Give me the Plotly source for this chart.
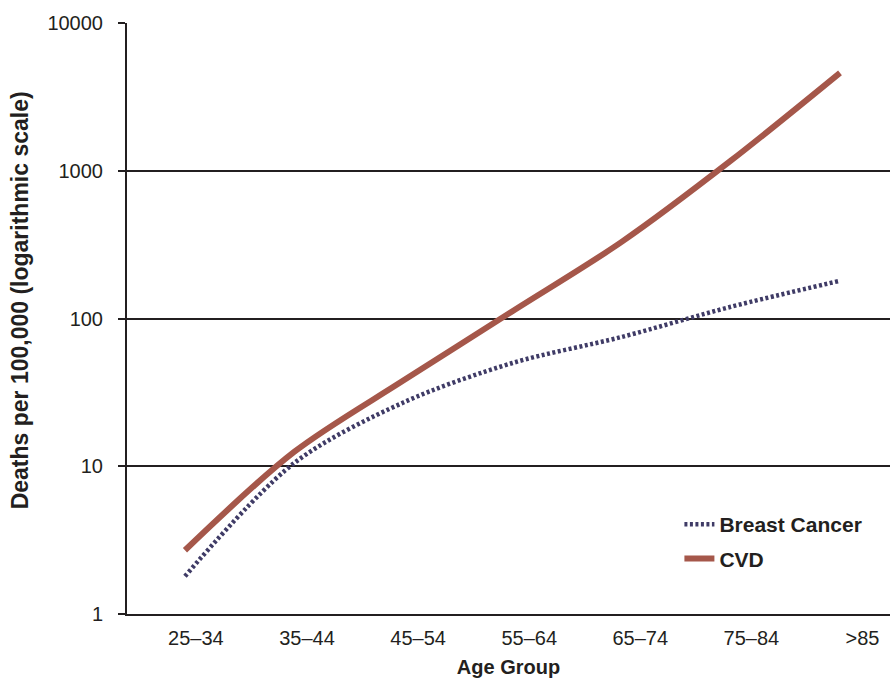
import plotly.graph_objects as go

categories = ["25–34", "35–44", "45–54", "55–64", "65–74", "75–84", ">85"]
breast_cancer = [1.8, 10.5, 27, 50, 75, 120, 180]
cvd = [2.7, 12.5, 38, 112, 330, 1170, 4600]
y_ticks = [1, 10, 100, 1000, 10000]
y_ticktext = ["1", "10", "100", "1000", "10000"]

idx = list(range(len(categories)))
# label positions are slightly offset from data positions in the original
tick_pos = [0.10 + 1.0177 * i for i in idx]

FONT = "Liberation Sans, Arial, Helvetica, sans-serif"

fig = go.Figure()
fig.add_trace(go.Scatter(
    x=idx, y=breast_cancer, mode="lines", name="Breast Cancer",
    line=dict(color="#3f3b66", width=4.5, dash="3px,2.5px", shape="spline", smoothing=0.9),
    legendgroup="a",
))
fig.add_trace(go.Scatter(
    x=idx, y=cvd, mode="lines", name="CVD",
    line=dict(color="#a5574a", width=6, shape="spline", smoothing=0.9),
    legendgroup="b",
))

fig.update_layout(
    width=890, height=682,
    margin=dict(l=127, r=0, t=23, b=68),
    paper_bgcolor="white", plot_bgcolor="white",
    font=dict(family=FONT, size=20, color="#231f20"),
    showlegend=True,
    legend=dict(
        x=0.724, y=0.186, xanchor="left", yanchor="top",
        bgcolor="rgba(0,0,0,0)", traceorder="grouped", tracegroupgap=4,
        font=dict(family=FONT, size=21, color="#231f20", weight="bold"),
    ),
    xaxis=dict(
        range=[-0.531, 6.458], tickmode="array", tickvals=tick_pos, ticktext=categories,
        showgrid=False, zeroline=False, showline=True, linecolor="#231f20", linewidth=2,
        ticks="", ticklabelstandoff=5, tickfont=dict(size=20),
        title=dict(text="<b>Age Group</b>", font=dict(size=20), standoff=12),
        fixedrange=True,
    ),
    yaxis=dict(
        type="log", range=[0, 4], tickmode="array", tickvals=y_ticks, ticktext=y_ticktext,
        showgrid=True, gridcolor="#231f20", gridwidth=2,
        zeroline=False, showline=True, linecolor="#231f20", linewidth=2,
        ticks="outside", ticklen=7, tickwidth=2, tickcolor="#231f20",
        ticklabelstandoff=11, tickfont=dict(size=20),
        fixedrange=True,
    ),
    annotations=[dict(
        text="<b>Deaths per 100,000 (logarithmic scale)</b>",
        xref="paper", yref="paper", x=-0.140, y=0.531,
        xanchor="center", yanchor="middle", textangle=-90, showarrow=False,
        font=dict(family=FONT, size=23, color="#231f20"),
    )],
)

fig.write_html("out.html", config={"displayModeBar": False},
               post_script="document.body.style.margin='0';")
